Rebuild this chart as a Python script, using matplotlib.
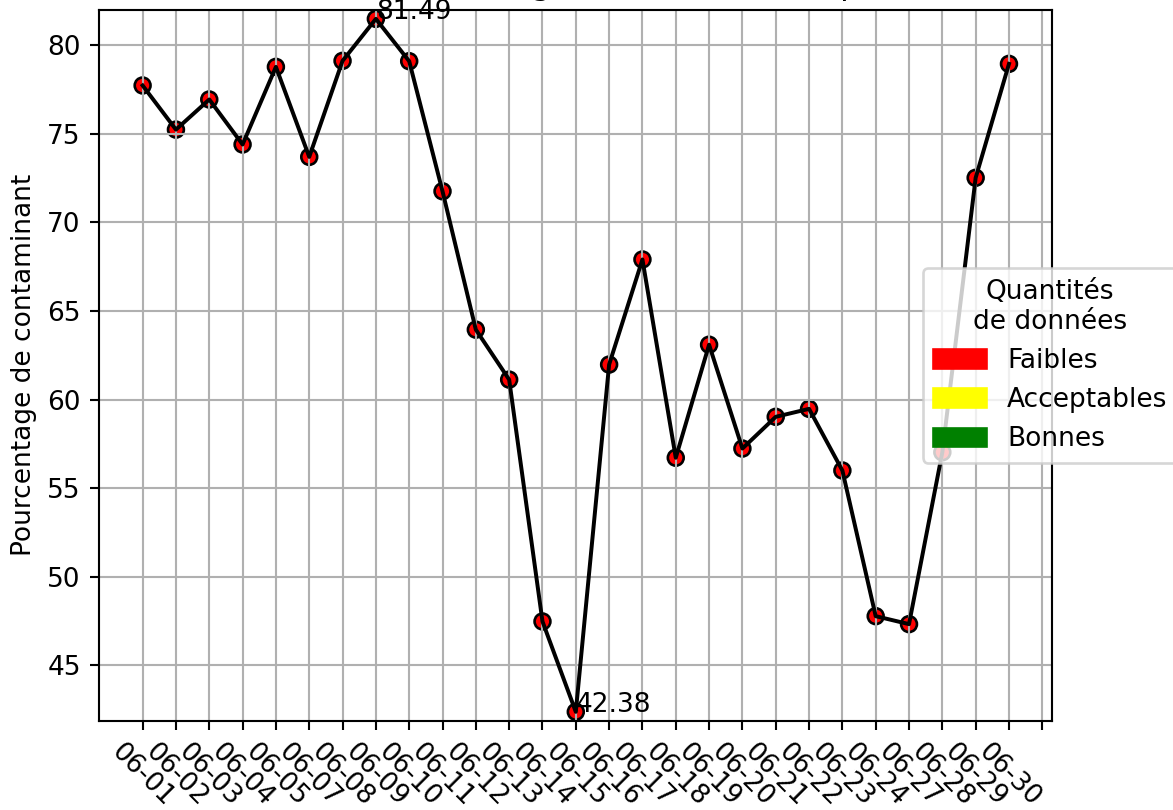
import matplotlib
matplotlib.use("Agg")
import matplotlib.pyplot as plt
from matplotlib.patches import Patch
import numpy as np

# Jours de juin avec mesures
dates = ["06-01", "06-02", "06-03", "06-04", "06-05", "06-07", "06-08",
         "06-09", "06-10", "06-11", "06-12", "06-13", "06-14", "06-15",
         "06-16", "06-17", "06-18", "06-19", "06-20", "06-21", "06-22",
         "06-23", "06-24", "06-27", "06-28", "06-29", "06-30"]
pourcentages = [77.73, 75.24, 76.94, 74.40, 78.78, 73.70, 79.12,
                81.49, 79.10, 71.76, 63.95, 61.13, 47.48, 42.38,
                61.98, 67.91, 56.72, 63.10, 57.24, 59.03, 59.48,
                56.00, 47.78, 47.33, 57.03, 72.52, 78.95]
# qualite de la quantite de donnees pour chaque jour
quantites = ["Faibles"] * len(dates)

legende_noms = ["Faibles", "Acceptables", "Bonnes"]
legende_couleurs = ["red", "yellow", "green"]
couleur_de = dict(zip(legende_noms, legende_couleurs))

DPI = 190
fig = plt.figure(figsize=(1173 / DPI, 810 / DPI), dpi=DPI)
ax = fig.add_axes([99.3 / 1173, 1 - 720.7 / 810, 953 / 1173, 710.7 / 810])

x = np.arange(len(dates))
ax.scatter(x, pourcentages, c=[couleur_de[q] for q in quantites],
           edgecolors="black", s=36)
ax.plot(x, pourcentages, color="black")

i_max = int(np.argmax(pourcentages))
i_min = int(np.argmin(pourcentages))
for i in (i_max, i_min):
    ax.text(x[i], pourcentages[i], f"{pourcentages[i]:.2f}")

ax.set_xticks(np.arange(len(dates) + 1), dates + [""], rotation=-45)
ax.set_ylim(min(pourcentages) - 0.5, max(pourcentages) + 0.5)
ax.set_ylabel("Pourcentage de contaminant")
titre = ax.set_title("Pourcentage de contaminant par date")
titre.set_x(0.602)
ax.grid(True)

handles = [Patch(color=c, label=n) for n, c in zip(legende_noms, legende_couleurs)]
leg = ax.legend(handles=handles, title="Quantités\nde données",
                loc="center left", bbox_to_anchor=(0.850, 0.5))
leg.get_title().set_multialignment("center")

fig.savefig("out.png", dpi=DPI)
